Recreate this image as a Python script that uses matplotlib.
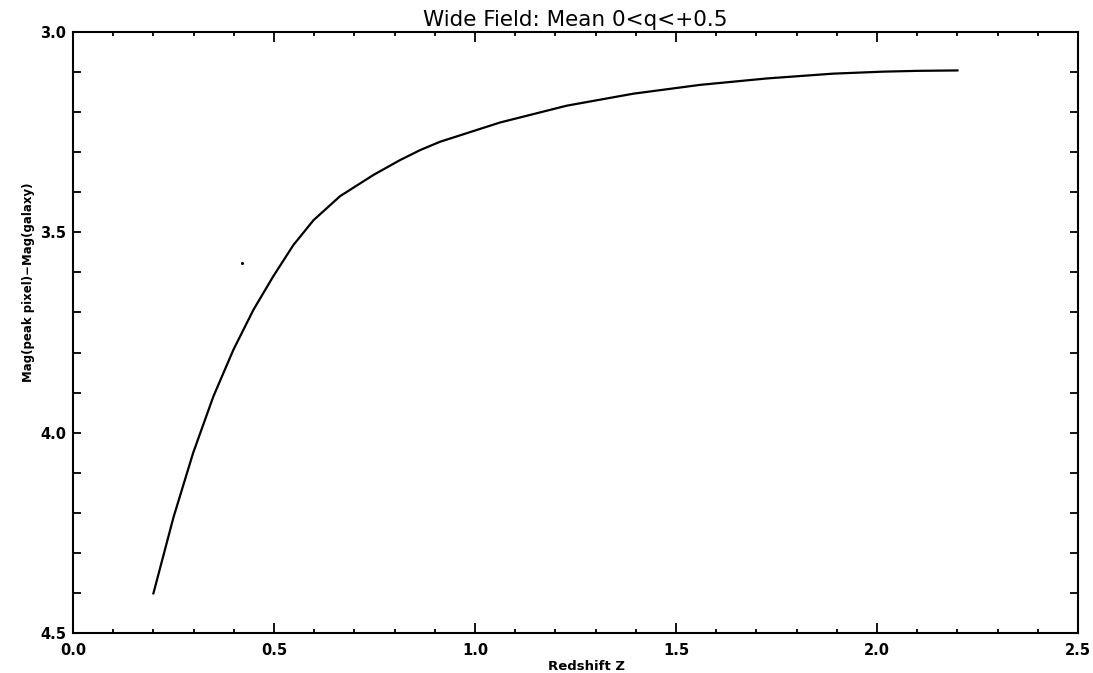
import matplotlib
matplotlib.use('Agg')
import matplotlib.pyplot as plt
from matplotlib.ticker import MultipleLocator

# curve (redshift, magnitude difference)
redshift = [0.200, 0.250, 0.299, 0.349, 0.399, 0.449, 0.498, 0.548, 0.598,
            0.664, 0.747, 0.813, 0.863, 0.913, 1.062, 1.228, 1.394, 1.560,
            1.726, 1.891, 2.016, 2.103, 2.200]
mag_diff = [4.401, 4.211, 4.050, 3.910, 3.793, 3.693, 3.610, 3.532, 3.470,
            3.410, 3.357, 3.320, 3.295, 3.274, 3.226, 3.184, 3.154, 3.132,
            3.116, 3.104, 3.099, 3.097, 3.096]

# stray dot in the scan
dot_z = [0.42]
dot_mag = [3.577]

fig = plt.figure(figsize=(10.93, 6.73), dpi=100)
ax = fig.add_axes([0.0668, 0.0594, 0.9195, 0.8931])

ax.plot(redshift, mag_diff, color='black', lw=1.6, solid_joinstyle='round')
ax.plot(dot_z, dot_mag, 'o', color='black', ms=1.2)

ax.set_xlim(0.0, 2.5)
ax.set_ylim(4.5, 3.0)
ax.xaxis.set_major_locator(MultipleLocator(0.5))
ax.xaxis.set_minor_locator(MultipleLocator(0.1))
ax.yaxis.set_major_locator(MultipleLocator(0.5))
ax.yaxis.set_minor_locator(MultipleLocator(0.1))
ax.xaxis.set_major_formatter(plt.FormatStrFormatter('%.1f'))
ax.yaxis.set_major_formatter(plt.FormatStrFormatter('%.1f'))

ax.tick_params(which='both', direction='in', top=True, right=True, width=1.3)
ax.tick_params(axis='x', which='major', length=7.5, pad=7)
ax.tick_params(axis='x', which='minor', length=3)
ax.tick_params(axis='y', which='major', length=6, pad=5)
ax.tick_params(axis='y', which='minor', length=6)
for lab in ax.get_xticklabels() + ax.get_yticklabels():
    lab.set_fontsize(10.5)
    lab.set_fontweight('bold')
for sp in ax.spines.values():
    sp.set_linewidth(1.5)

ax.set_title('Wide Field: Mean 0<q<+0.5', fontsize=15.5, pad=4)
ax.set_xlabel('Redshift Z', fontsize=9.5, fontweight='bold')
ax.xaxis.set_label_coords(0.511, -0.045)
ax.set_ylabel('Mag(peak pixel)\u2212Mag(galaxy)', fontsize=8.5,
              fontweight='bold')
ax.yaxis.set_label_coords(-0.038, 0.584)

fig.savefig('out.png', dpi=100)
